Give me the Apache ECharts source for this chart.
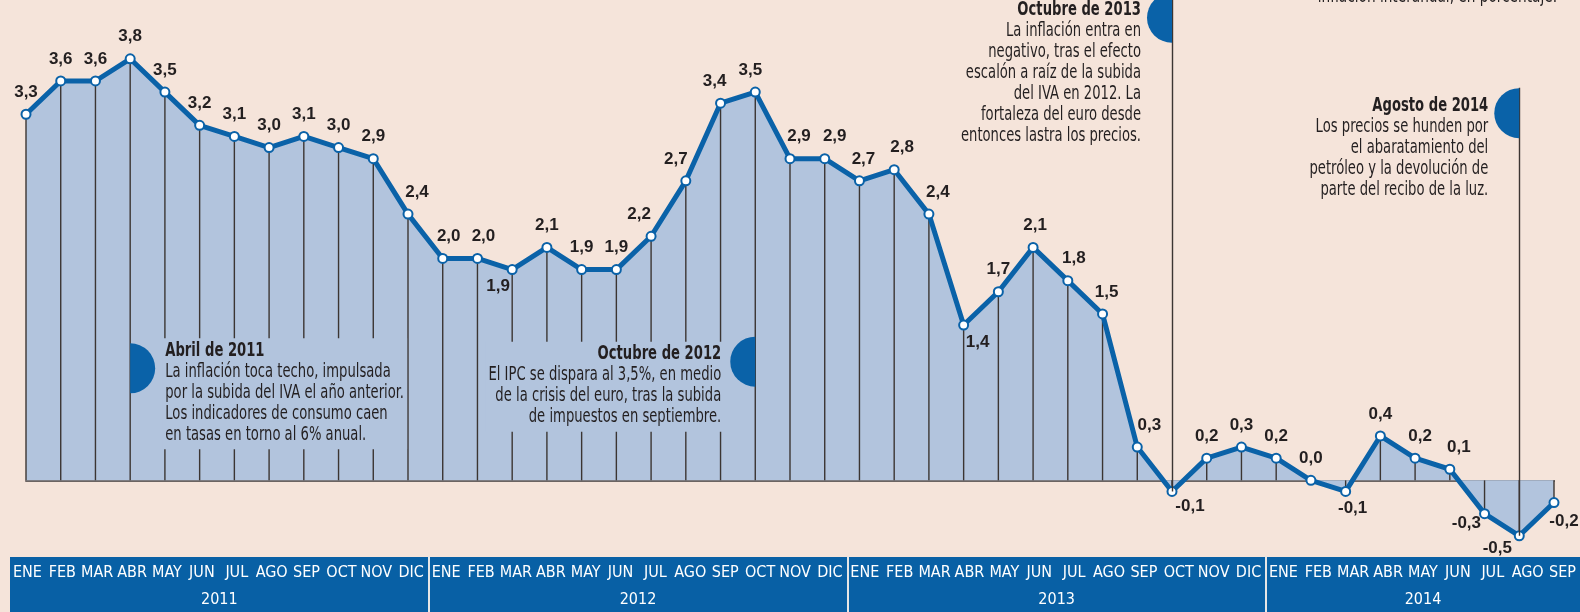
<!DOCTYPE html>
<html>
<head>
<meta charset="utf-8">
<script src="https://cdn.jsdelivr.net/npm/echarts@6/dist/echarts.min.js"></script>
<style>
  html, body { margin: 0; padding: 0; background: #f5e4da; }
  #chart { width: 1580px; height: 612px; }
</style>
</head>
<body>
<div id="chart"></div>
<script>
// IPC interanual, en porcentaje
const months = ['ENE', 'FEB', 'MAR', 'ABR', 'MAY', 'JUN', 'JUL', 'AGO', 'SEP', 'OCT', 'NOV', 'DIC'];
const years = ['2011', '2012', '2013', '2014'];
const ipc2011 = [3.3, 3.6, 3.6, 3.8, 3.5, 3.2, 3.1, 3.0, 3.1, 3.0, 2.9, 2.4];
const ipc2012 = [2.0, 2.0, 1.9, 2.1, 1.9, 1.9, 2.2, 2.7, 3.4, 3.5, 2.9, 2.9];
const ipc2013 = [2.7, 2.8, 2.4, 1.4, 1.7, 2.1, 1.8, 1.5, 0.3, -0.1, 0.2, 0.3];
const ipc2014 = [0.2, 0.0, -0.1, 0.4, 0.2, 0.1, -0.3, -0.5, -0.2];

const blue = '#0a62a8';
const band = '#0860a5';
const fill = '#b2c4dd';
const ink = '#231f20';
const narrow = "'Liberation Sans Narrow', 'DejaVu Sans Condensed', sans-serif";

let cats = [];
let monthLabels = [];
let values = [];
let yearStart = [];
let yearMid = [];
[ipc2011, ipc2012, ipc2013, ipc2014].forEach(function(arr, y) {
  yearStart.push(values.length);
  yearMid.push(values.length + arr.length / 2);
  arr.forEach(function(v, m) {
    cats.push(months[m] + '-' + years[y]);
    monthLabels.push(months[m]);
    values.push(v);
  });
});

// where each value label sits, when it is not straight above the point
const labelTweaks = {
  11: { offset: [9, 0] },
  12: { offset: [6, 0] },
  13: { offset: [6, 0] },
  14: { position: 'bottom', distance: 3, offset: [-14, 0] },
  18: { offset: [-12, 0] },
  19: { offset: [-10, 0] },
  20: { offset: [-6, 0] },
  21: { offset: [-5, 0] },
  22: { offset: [9, 0] },
  23: { offset: [10, 0] },
  24: { offset: [4, 0] },
  25: { offset: [8, 0] },
  26: { offset: [9, 0] },
  27: { position: 'bottom', distance: 3, offset: [14, 0] },
  29: { offset: [2, 0] },
  30: { offset: [6, 0] },
  31: { offset: [4, 0] },
  32: { offset: [12, 0] },
  33: { position: 'bottom', distance: 3, offset: [18, -2] },
  38: { position: 'bottom', distance: 3, offset: [7, 0] },
  40: { offset: [5, 0] },
  41: { offset: [9, 0] },
  42: { position: 'left', offset: [10, 10] },
  43: { position: 'bottom', distance: 2, offset: [-22, -4] },
  44: { position: 'bottom', distance: 3, offset: [10, 2] }
};

const notes = [
  { cat: 'ABR-2011', y: 1.01, dy: -30, side: 'right', bg: true, title: 'Abril de 2011',
    body: ['La inflación toca techo, impulsada', 'por la subida del IVA el año anterior.', 'Los indicadores de consumo caen', 'en tasas en torno al 6% anual.'] },
  { cat: 'OCT-2012', y: 1.07, dy: -20, side: 'left', bg: true, title: 'Octubre de 2012',
    body: ['El IPC se dispara al 3,5%, en medio', 'de la crisis del euro, tras la subida', 'de impuestos en septiembre.'] },
  { cat: 'OCT-2013', y: 4.17, dy: -18, side: 'left', bg: false, title: 'Octubre de 2013',
    body: ['La inflación entra en', 'negativo, tras el efecto', 'escalón a raíz de la subida', 'del IVA en 2012. La', 'fortaleza del euro desde', 'entonces lastra los precios.'] },
  { cat: 'AGO-2014', y: 3.31, dy: -18, side: 'left', bg: false, title: 'Agosto de 2014',
    body: ['Los precios se hunden por', 'el abaratamiento del', 'petróleo y la devolución de', 'parte del recibo de la luz.'] }
];

function fmt(v) {
  return v.toFixed(1).replace('.', ',');
}

let chart = echarts.init(document.getElementById('chart'));
chart.setOption({
  animation: false,
  backgroundColor: '#f5e4da',
  grid: [
    { left: 26, right: 26, top: 0, height: 558 },
    { left: 10, right: 0, top: 557, bottom: 0, show: true, backgroundColor: band, borderWidth: 0 }
  ],
  xAxis: [
    {
      gridIndex: 0, type: 'category', data: cats, boundaryGap: false,
      axisLine: { show: true, onZero: true, lineStyle: { color: '#6b6462', width: 2 } },
      axisTick: { show: false }, axisLabel: { show: false }, splitLine: { show: false }
    },
    {
      gridIndex: 1, type: 'category', data: monthLabels, position: 'top', boundaryGap: true,
      axisLine: { show: false }, axisTick: { show: false }, splitLine: { show: false },
      axisLabel: { inside: true, interval: 0, margin: 8, color: '#ffffff', fontSize: 16, fontFamily: narrow }
    },
    {
      gridIndex: 1, type: 'value', min: 0, max: values.length, position: 'bottom',
      axisLine: { show: false }, splitLine: { show: false },
      axisTick: { show: true, inside: true, length: 56, customValues: yearStart.slice(1), lineStyle: { color: '#e6e6e6', width: 2 } },
      axisLabel: {
        inside: true, margin: 4, color: '#ffffff', fontSize: 16, fontFamily: narrow,
        customValues: yearMid,
        formatter: function(v) { return years[yearMid.indexOf(v)]; }
      }
    }
  ],
  yAxis: [
    { gridIndex: 0, type: 'value', min: -0.7, max: 4.33, show: false },
    { gridIndex: 1, type: 'value', show: false }
  ],
  series: [
    {
      name: 'area', type: 'line', xAxisIndex: 0, yAxisIndex: 0, data: values, z: 1,
      symbol: 'none', lineStyle: { width: 0 }, areaStyle: { color: fill, opacity: 1 }, silent: true
    },
    {
      name: 'drops', type: 'bar', xAxisIndex: 0, yAxisIndex: 0, data: values, z: 2,
      barWidth: 1.4, itemStyle: { color: '#3b3532' }, silent: true,
      markLine: {
        silent: true, symbol: 'none', label: { show: false },
        lineStyle: { color: '#3b3532', width: 1.4, type: 'solid' },
        data: [
          [{ coord: ['OCT-2013', 4.33] }, { coord: ['OCT-2013', values[cats.indexOf('OCT-2013')]] }],
          [{ coord: ['AGO-2014', 3.54] }, { coord: ['AGO-2014', values[cats.indexOf('AGO-2014')]] }]
        ]
      }
    },
    {
      name: 'IPC', type: 'line', xAxisIndex: 0, yAxisIndex: 0, z: 3,
      data: values.map(function(v, i) {
        return labelTweaks[i] ? { value: v, label: labelTweaks[i] } : v;
      }),
      lineStyle: { color: blue, width: 5 },
      symbol: 'circle', symbolSize: 9,
      itemStyle: { color: '#ffffff', borderColor: blue, borderWidth: 2 },
      label: {
        show: true, position: 'top', distance: 8, color: ink,
        fontSize: 17, fontWeight: 'bold', fontFamily: "'Liberation Sans', Arial, sans-serif",
        formatter: function(p) { return fmt(p.value); }
      }
    }
  ]
});

// annotations: half discs on the month line, text beside them (squeezed to look condensed)
let graphics = notes.map(function(n) {
  let p = chart.convertToPixel({ gridIndex: 0 }, [n.cat, n.y]);
  let right = n.side === 'right';
  return {
    type: 'group',
    children: [
      {
        type: 'sector', z: 10,
        shape: { cx: p[0], cy: p[1], r: 25, startAngle: right ? -Math.PI / 2 : Math.PI / 2, endAngle: right ? Math.PI / 2 : Math.PI * 1.5 },
        style: { fill: blue }
      },
      {
        type: 'text', z: 10,
        x: right ? p[0] + 32 : p[0] - 31,
        y: p[1] + n.dy,
        scaleX: 0.77,
        style: {
          text: '{t|' + n.title + '}\n' + n.body.join('\n'),
          align: right ? 'left' : 'right', verticalAlign: 'top',
          fontSize: 19, fontFamily: narrow, fill: ink, lineHeight: 21,
          backgroundColor: n.bg ? fill : 'transparent',
          padding: n.bg ? [2, 4, 4, 4] : 0,
          rich: { t: { fontSize: 19, fontWeight: 'bold', fontFamily: narrow, fill: ink, lineHeight: 21 } }
        }
      }
    ]
  };
});
// subtitle line, cut by the top edge of the picture
graphics.push({
  type: 'text', x: 1557, y: 7, z: 10, scaleX: 0.8,
  style: { text: 'inflación interanual, en porcentaje.', align: 'right', verticalAlign: 'bottom', fontSize: 19, fontFamily: narrow, fill: ink }
});
chart.setOption({ graphic: graphics });
</script>
</body>
</html>
